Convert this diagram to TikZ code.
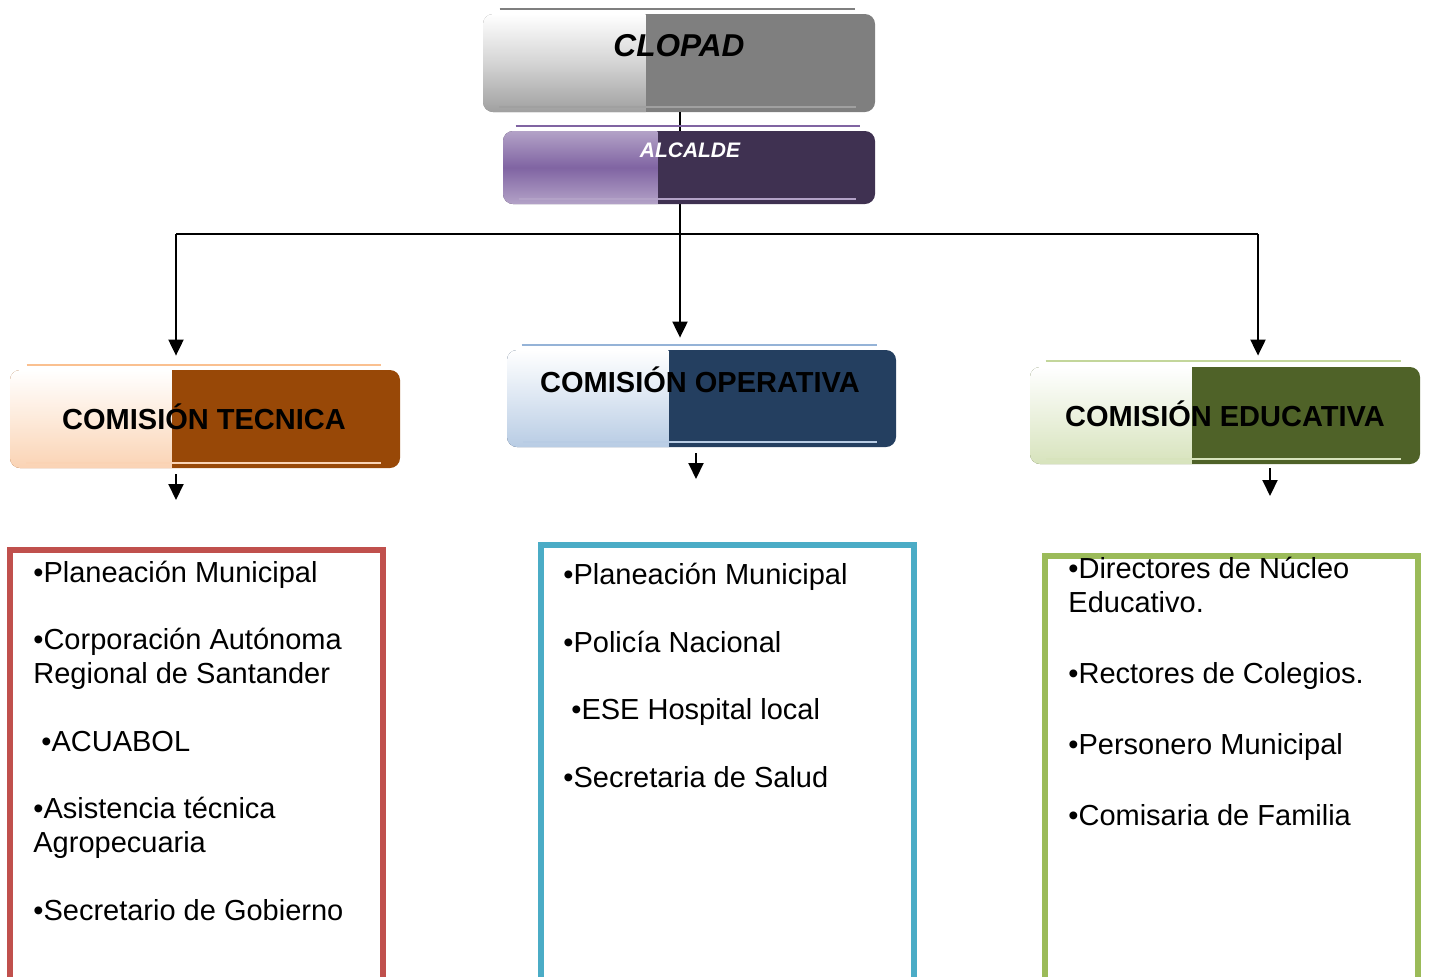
\documentclass[tikz,border=0pt]{standalone}
\usepackage{fontspec}
\setmainfont{Liberation Sans}
\usepackage{tikz}
\usetikzlibrary{calc,arrows.meta}

\definecolor{clopaddark}{HTML}{7F7F7F}
\definecolor{clopadmid}{HTML}{D4D4D4}
\definecolor{clopadlight}{HTML}{A0A0A0}
\definecolor{alcaldedark}{HTML}{3F3151}
\definecolor{alcaldemid}{HTML}{8064A2}
\definecolor{alcaldelight}{HTML}{B3A2C7}
\definecolor{tecdark}{HTML}{984807}
\definecolor{tecmid}{HTML}{FDEADA}
\definecolor{teclight}{HTML}{FAD3B4}
\definecolor{tecline}{HTML}{FAC090}
\definecolor{opdark}{HTML}{243F60}
\definecolor{opmid}{HTML}{DCE6F2}
\definecolor{oplight}{HTML}{B8CCE4}
\definecolor{opline}{HTML}{95B3D7}
\definecolor{edudark}{HTML}{4F6228}
\definecolor{edumid}{HTML}{EBF1DE}
\definecolor{edulight}{HTML}{D7E3BC}
\definecolor{eduline}{HTML}{C3D69B}
\definecolor{tecframe}{HTML}{C0504D}
\definecolor{opframe}{HTML}{4BACC6}
\definecolor{eduframe}{HTML}{9BBB59}

\begin{document}
\begin{tikzpicture}[x=0.5pt, y=-0.5pt,
		headbox/.style n args={4}{rounded corners=5pt, inner sep=0pt, fill=#4,
			path picture={
				\shade[sharp corners, top color=#1, bottom color=#3, middle color=#2]
					(path picture bounding box.north west) rectangle
					($(path picture bounding box.south west)!0.415!(path picture bounding box.south east)$);
				\draw[sharp corners, #3, line width=1pt]
					($(path picture bounding box.south west)+(16,-5)$) --
					($(path picture bounding box.south east)+(-19,-5)$);
			}},
		topline/.style={draw=#1, line width=1pt},
		headtext/.style={font=\fontsize{14.5}{17}\selectfont\bfseries, inner sep=0pt, anchor=base},
		listframe/.style={draw=#1, line width=3pt, outer sep=0pt, anchor=north west, minimum width=186.5pt, minimum height=230pt},
		listtext/.style={font=\fontsize{14.5}{16.9}\selectfont, align=left, inner sep=0pt, anchor=north west},
		link/.style={line width=1pt},
		arrowlink/.style={link, -{Triangle[length=8pt,width=7.5pt]}}]
	\useasboundingbox (0,0) rectangle (1429,976);

	\node[headbox={white}{clopadmid}{clopadlight}{clopaddark}, minimum width=196pt, minimum height=49pt] (clopad) at (679,63) {};
	\draw[topline=clopaddark] ($(clopad.north west)+(17,-5)$) -- ($(clopad.north east)+(-20,-5)$);
	\node[headtext, font=\fontsize{15.8}{18}\selectfont\bfseries\itshape] (clopadtext) at (679,56) {CLOPAD};

	\coordinate (hub) at (680,234);
	\coordinate (hubleft) at (176,234);
	\coordinate (hubright) at (1258,234);
	\draw[link] (clopad.south -| hub) -- (hub);

	\node[headbox={alcaldelight}{alcaldemid}{alcaldelight}{alcaldedark}, minimum width=186pt, minimum height=36.5pt] (alcalde) at (689,167.5) {};
	\draw[topline=alcaldemid] ($(alcalde.north west)+(13,-5)$) -- ($(alcalde.north east)+(-15,-5)$);
	\node[headtext, font=\fontsize{10.5}{12}\selectfont\bfseries\itshape, text=white] (alcaldetext) at (690,157) {ALCALDE};

	\node[headbox={white}{tecmid}{teclight}{tecdark}, minimum width=195pt, minimum height=49pt] (tecnica) at (205,419) {};
	\draw[topline=tecline] ($(tecnica.north west)+(17,-5)$) -- ($(tecnica.north east)+(-19,-5)$);
	\node[headtext] (tecnicatext) at (204,429) {COMISIÓN TECNICA};

	\node[headbox={white}{opmid}{oplight}{opdark}, minimum width=194.5pt, minimum height=48.5pt] (operativa) at (701.5,398.5) {};
	\draw[topline=opline] ($(operativa.north west)+(15,-5)$) -- ($(operativa.north east)+(-19,-5)$);
	\node[headtext] (operativatext) at (700,392) {COMISIÓN OPERATIVA};

	\node[headbox={white}{edumid}{edulight}{edudark}, minimum width=195pt, minimum height=48.5pt] (educativa) at (1225,415.5) {};
	\draw[topline=eduline] ($(educativa.north west)+(16,-6)$) -- ($(educativa.north east)+(-19,-6)$);
	\node[headtext] (educativatext) at (1225,426) {COMISIÓN EDUCATIVA};

	\draw[link] (hubleft) -- (hubright);
	\draw[arrowlink, shorten >=7pt] (hubleft) -- (hubleft |- tecnica.north);
	\draw[arrowlink, shorten >=6pt] (hub) -- (hub |- operativa.north);
	\draw[arrowlink, shorten >=5.5pt] (hubright) -- (hubright |- educativa.north);

	\coordinate (tecout) at (176,500);
	\coordinate (opout) at (696,479);
	\coordinate (eduout) at (1270,496);
	\draw[arrowlink, shorten <=3pt] (tecnica.south -| tecout) -- (tecout);
	\draw[arrowlink, shorten <=3pt] (operativa.south -| opout) -- (opout);
	\draw[arrowlink, shorten <=2pt] (educativa.south -| eduout) -- (eduout);

	\node[listframe=tecframe] (tecnicaframe) at (10,550) {};
	\node[listframe=opframe] (operativaframe) at (540.5,545) {};
	\node[listframe=eduframe, minimum width=186.75pt] (educativaframe) at (1044.5,556) {};

	\node[listtext] (tecnicalist) at (33,560.5) {•Planeación Municipal\\[16.9pt]
		•Corporación Autónoma\\Regional de Santander\\[16.9pt]
		\hspace*{4pt}•ACUABOL\\[16.9pt]
		•Asistencia técnica\\Agropecuaria\\[16.9pt]
		•Secretario de Gobierno};
	\node[listtext] (operativalist) at (563,563) {•Planeación Municipal\\[16.9pt]
		•Policía Nacional\\[16.9pt]
		\hspace*{4pt}•ESE Hospital local\\[16.9pt]
		•Secretaria de Salud};
	\node[listtext] (educativalist) at (1068,557) {•Directores de Núcleo\\Educativo.\\[18.6pt]
		•Rectores de Colegios.\\[18.6pt]
		•Personero Municipal\\[18.6pt]
		•Comisaria de Familia};
\end{tikzpicture}
\end{document}
